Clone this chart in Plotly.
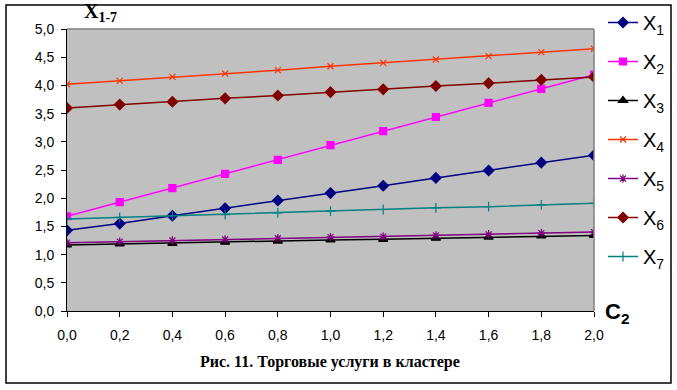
import plotly.graph_objects as go

c2 = [0.0, 0.2, 0.4, 0.6, 0.8, 1.0, 1.2, 1.4, 1.6, 1.8, 2.0]
x1 = [1.43, 1.55, 1.69, 1.82, 1.96, 2.09, 2.22, 2.36, 2.49, 2.63, 2.76]
x2 = [1.68, 1.93, 2.18, 2.43, 2.68, 2.94, 3.19, 3.44, 3.69, 3.94, 4.19]
x3 = [1.17, 1.19, 1.20, 1.22, 1.24, 1.26, 1.27, 1.29, 1.31, 1.33, 1.34]
x4 = [4.02, 4.08, 4.15, 4.21, 4.27, 4.34, 4.40, 4.46, 4.52, 4.59, 4.65]
x5 = [1.21, 1.23, 1.25, 1.27, 1.29, 1.31, 1.32, 1.34, 1.36, 1.38, 1.40]
x6 = [3.60, 3.66, 3.71, 3.77, 3.82, 3.88, 3.93, 3.99, 4.04, 4.10, 4.15]
x7 = [1.63, 1.66, 1.69, 1.71, 1.74, 1.77, 1.80, 1.83, 1.85, 1.88, 1.91]

series = [
    ("X<sub>1</sub>", x1, "#000080", "diamond", 8),
    ("X<sub>2</sub>", x2, "#FF00FF", "square", 7),
    ("X<sub>3</sub>", x3, "#000000", "triangle-up", 8),
    ("X<sub>4</sub>", x4, "#FF3300", "x-thin-open", 6),
    ("X<sub>5</sub>", x5, "#800080", "asterisk-open", 7),
    ("X<sub>6</sub>", x6, "#800000", "diamond", 8),
    ("X<sub>7</sub>", x7, "#008080", "cross-thin-open", 7),
]

fig = go.Figure()
for i, (name, ys, col, sym, sz) in enumerate(series):
    fig.add_trace(go.Scatter(
        x=c2, y=ys, name=name, mode="lines+markers",
        line=dict(color=col, width=1.5),
        marker=dict(symbol=sym, size=sz, color=col, line=dict(color=col, width=1.2)),
        legendgroup=str(i),
    ))

W, H = 677, 390
L, R, T, B = 67, 594, 29, 311
pw, ph = R - L, B - T

def px(x):
    return (x - L) / pw

def py(y):
    return (B - y) / ph

fig.update_layout(
    width=W, height=H,
    margin=dict(l=L, r=W - R, t=T, b=H - B, autoexpand=False),
    paper_bgcolor="white",
    plot_bgcolor="#C0C0C0",
    separators=", ",
    font=dict(family="Liberation Sans, Arial, sans-serif", size=14, color="black"),
    showlegend=True,
    legend=dict(
        x=px(603), y=py(3), xanchor="left", yanchor="top",
        font=dict(size=20, family="Liberation Sans, Arial, sans-serif"),
        tracegroupgap=10, bgcolor="rgba(0,0,0,0)", itemwidth=30,
        maxheight=380,
    ),
    xaxis=dict(
        range=[0, 2], dtick=0.2, tick0=0, tickformat=".1f",
        showgrid=False, zeroline=False, showline=True, linecolor="black", linewidth=1,
        ticks="outside", ticklen=5, tickcolor="black", tickfont=dict(size=14),
        ticklabelstandoff=6, fixedrange=True,
    ),
    yaxis=dict(
        range=[0, 5], dtick=0.5, tick0=0, tickformat=".1f",
        showgrid=False, zeroline=False, showline=True, linecolor="black", linewidth=1,
        ticks="outside", ticklen=5, tickcolor="black", tickfont=dict(size=14),
        ticklabelstandoff=4, fixedrange=True,
    ),
    shapes=[
        dict(type="rect", xref="paper", yref="paper",
             x0=px(6), x1=px(671), y0=py(383), y1=py(5),
             line=dict(color="black", width=1.5), layer="below"),
        dict(type="line", xref="paper", yref="paper",
             x0=0, x1=1, y0=1, y1=1, line=dict(color="#808080", width=1.5)),
        dict(type="line", xref="paper", yref="paper",
             x0=1, x1=1, y0=0, y1=1, line=dict(color="#808080", width=1.5)),
    ],
    annotations=[
        dict(text="<b>X</b><sub><b>1-7</b></sub>", xref="paper", yref="paper",
             x=px(82), y=py(27), xanchor="left", yanchor="bottom", showarrow=False,
             font=dict(family="Liberation Serif, Times New Roman, serif", size=20)),
        dict(text="<b>C</b><sub><b>2</b></sub>", xref="paper", yref="paper",
             x=px(603), y=py(313), xanchor="left", yanchor="middle", showarrow=False,
             font=dict(family="Liberation Sans, Arial, sans-serif", size=22)),
        dict(text="<b>Рис. 11. Торговые услуги в кластере</b>", xref="paper", yref="paper",
             x=px(330), y=py(362), xanchor="center", yanchor="middle", showarrow=False,
             font=dict(family="Liberation Serif, Times New Roman, serif", size=16)),
    ],
)

fig.write_html("out.html", config={"displayModeBar": False},
               post_script="document.body.style.margin='0';")
